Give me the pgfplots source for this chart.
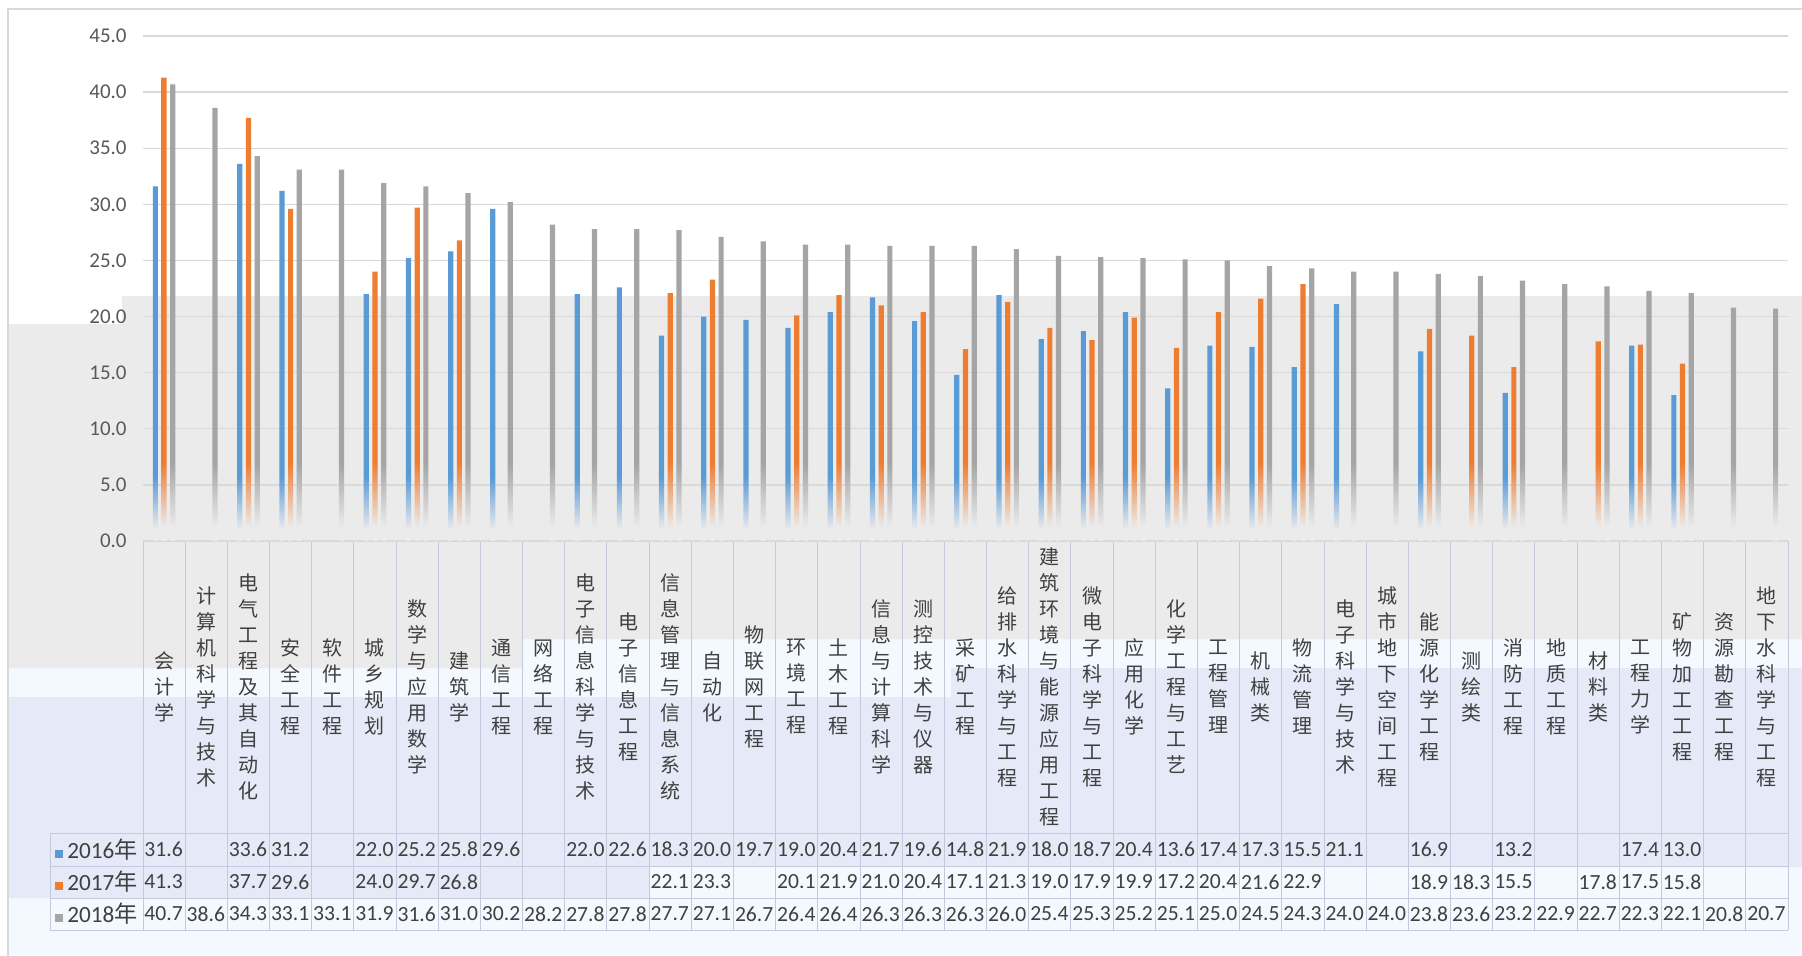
\documentclass[border=0pt]{standalone}
\usepackage{fontspec}
\setmainfont{Carlito}
\newfontfamily\cjk{Noto Sans CJK SC}
\usepackage{pgfplots}
\pgfplotsset{compat=1.18}
\usepackage{pgfplotstable}

\definecolor{c16}{HTML}{5B9BD5}
\definecolor{c17}{HTML}{ED7D31}
\definecolor{c18}{HTML}{A5A5A5}
\definecolor{bgg}{HTML}{EBEBEB}
\definecolor{lav}{HTML}{E6EAF8}
\definecolor{strip}{HTML}{F3F9FE}
\definecolor{gridc}{HTML}{D9D9D9}
\definecolor{tblc}{HTML}{C4C9DB}
\definecolor{axc}{HTML}{BFBFBF}
\definecolor{txt}{HTML}{404040}
\definecolor{tickc}{HTML}{595959}

\pgfdeclareverticalshading{f16}{100bp}{color(0bp)=(bgg); color(26.5bp)=(bgg); color(33.5bp)=(c16); color(100bp)=(c16)}
\pgfdeclareverticalshading{f17}{100bp}{color(0bp)=(bgg); color(26.5bp)=(bgg); color(33.5bp)=(c17); color(100bp)=(c17)}
\pgfdeclareverticalshading{f18}{100bp}{color(0bp)=(bgg); color(26.5bp)=(bgg); color(33.5bp)=(c18); color(100bp)=(c18)}

\pgfplotstableread{
x v16 v17 v18
0 31.6 41.3 40.7
1 nan nan 38.6
2 33.6 37.7 34.3
3 31.2 29.6 33.1
4 nan nan 33.1
5 22.0 24.0 31.9
6 25.2 29.7 31.6
7 25.8 26.8 31.0
8 29.6 nan 30.2
9 nan nan 28.2
10 22.0 nan 27.8
11 22.6 nan 27.8
12 18.3 22.1 27.7
13 20.0 23.3 27.1
14 19.7 nan 26.7
15 19.0 20.1 26.4
16 20.4 21.9 26.4
17 21.7 21.0 26.3
18 19.6 20.4 26.3
19 14.8 17.1 26.3
20 21.9 21.3 26.0
21 18.0 19.0 25.4
22 18.7 17.9 25.3
23 20.4 19.9 25.2
24 13.6 17.2 25.1
25 17.4 20.4 25.0
26 17.3 21.6 24.5
27 15.5 22.9 24.3
28 21.1 nan 24.0
29 nan nan 24.0
30 16.9 18.9 23.8
31 nan 18.3 23.6
32 13.2 15.5 23.2
33 nan nan 22.9
34 nan 17.8 22.7
35 17.4 17.5 22.3
36 13.0 15.8 22.1
37 nan nan 20.8
38 nan nan 20.7
}\data

\newcommand\numfont{\fontsize{10.8}{12}\selectfont}
\newcommand\legfont{\fontsize{11.6}{12}\selectfont}

\begin{document}
\begin{tikzpicture}
\useasboundingbox (0pt,0pt) rectangle (901pt,477.5pt);
\fill[white] (0pt,0pt) rectangle (901pt,477.5pt);
% background bands
\fill[strip] (4pt,0pt) rectangle (901pt,158pt);
\fill[bgg] (4pt,315.5pt) -- (61pt,315.5pt) -- (61pt,329.5pt) -- (901pt,329.5pt) -- (901pt,158pt) -- (261.5pt,158pt) -- (261.5pt,143.5pt) -- (4pt,143.5pt) -- cycle;
\fill[lav] (4pt,129pt) -- (475.5pt,129pt) -- (475.5pt,143.5pt) -- (901pt,143.5pt) -- (901pt,44pt) -- (325pt,44pt) -- (325pt,28.5pt) -- (4pt,28.5pt) -- cycle;
% chart border
\draw[gridc, line width=0.6pt] (4pt,-2pt) -- (4pt,473pt) -- (903pt,473pt);
% data table grid
\foreach \k in {0,...,39} {
  \draw[tblc, line width=0.5pt] ({71.5pt+\k*21.0897pt},207pt) -- ({71.5pt+\k*21.0897pt},12.5pt);
}
\draw[tblc, line width=0.5pt] (25pt,61pt) -- (25pt,12.5pt);
\foreach \yy in {61,44.5,28.5,12.5} {
  \draw[tblc, line width=0.5pt] (25pt,\yy pt) -- (894pt,\yy pt);
}
\draw[axc, line width=0.6pt] (71.5pt,207pt) -- (894pt,207pt);
% legend keys of the data table
\node[anchor=west, inner sep=0pt, text=txt, font=\legfont] at (27.5pt,52.75pt) {\textcolor{c16}{\rule[0.3pt]{4pt}{4pt}}\,2016{\cjk 年}};
\node[anchor=west, inner sep=0pt, text=txt, font=\legfont] at (27.5pt,36.5pt) {\textcolor{c17}{\rule[0.3pt]{4pt}{4pt}}\,2017{\cjk 年}};
\node[anchor=west, inner sep=0pt, text=txt, font=\legfont] at (27.5pt,20.5pt) {\textcolor{c18}{\rule[0.3pt]{4pt}{4pt}}\,2018{\cjk 年}};

\begin{axis}[
  at={(71.5pt,207pt)}, anchor=south west,
  width=822.5pt, height=252.5pt, scale only axis,
  xmin=-0.5, xmax=38.5, ymin=0, ymax=45,
  enlargelimits=false, clip=false,
  axis line style={draw=none},
  tick style={draw=none}, major tick length=0pt,
  ymajorgrids, grid style={gridc, line width=0.7pt},
  ytick={0,5,...,45},
  /pgf/number format/fixed, /pgf/number format/fixed zerofill,
  /pgf/number format/precision=1, /pgf/number format/assume math mode=true,
  yticklabel style={font=\fontsize{10.5}{12}\selectfont, text=tickc, anchor=east, inner sep=0pt, xshift=-8pt},
  xtick={0,...,38},
  xticklabels={
    {会\\计\\学},
    {计\\算\\机\\科\\学\\与\\技\\术},
    {电\\气\\工\\程\\及\\其\\自\\动\\化},
    {安\\全\\工\\程},
    {软\\件\\工\\程},
    {城\\乡\\规\\划},
    {数\\学\\与\\应\\用\\数\\学},
    {建\\筑\\学},
    {通\\信\\工\\程},
    {网\\络\\工\\程},
    {电\\子\\信\\息\\科\\学\\与\\技\\术},
    {电\\子\\信\\息\\工\\程},
    {信\\息\\管\\理\\与\\信\\息\\系\\统},
    {自\\动\\化},
    {物\\联\\网\\工\\程},
    {环\\境\\工\\程},
    {土\\木\\工\\程},
    {信\\息\\与\\计\\算\\科\\学},
    {测\\控\\技\\术\\与\\仪\\器},
    {采\\矿\\工\\程},
    {给\\排\\水\\科\\学\\与\\工\\程},
    {建\\筑\\环\\境\\与\\能\\源\\应\\用\\工\\程},
    {微\\电\\子\\科\\学\\与\\工\\程},
    {应\\用\\化\\学},
    {化\\学\\工\\程\\与\\工\\艺},
    {工\\程\\管\\理},
    {机\\械\\类},
    {物\\流\\管\\理},
    {电\\子\\科\\学\\与\\技\\术},
    {城\\市\\地\\下\\空\\间\\工\\程},
    {能\\源\\化\\学\\工\\程},
    {测\\绘\\类},
    {消\\防\\工\\程},
    {地\\质\\工\\程},
    {材\\料\\类},
    {工\\程\\力\\学},
    {矿\\物\\加\\工\\工\\程},
    {资\\源\\勘\\查\\工\\程},
    {地\\下\\水\\科\\学\\与\\工\\程}},
  xticklabel style={font=\cjk\fontsize{10}{13}\selectfont, text=txt, align=center, anchor=center, inner sep=0pt, yshift=-73pt},
]
\addplot[ybar, bar width=2.6pt, bar shift=-4.35pt, draw=none, shading=f16] table[x=x, y=v16] {\data};
\addplot[ybar, bar width=2.6pt, bar shift=0pt, draw=none, shading=f17] table[x=x, y=v17] {\data};
\addplot[ybar, bar width=2.6pt, bar shift=4.35pt, draw=none, shading=f18] table[x=x, y=v18] {\data};

\addplot[draw=none, mark=none, point meta=explicit, nodes near coords,
  nodes near coords style={anchor=west, inner sep=0pt, xshift=-10pt, yshift=-154.25pt, font=\numfont, text=txt}]
  table[x=x, y expr=\thisrow{v16}*0, meta=v16] {\data};
\addplot[draw=none, mark=none, point meta=explicit, nodes near coords,
  nodes near coords style={anchor=west, inner sep=0pt, xshift=-10pt, yshift=-170.5pt, font=\numfont, text=txt}]
  table[x=x, y expr=\thisrow{v17}*0, meta=v17] {\data};
\addplot[draw=none, mark=none, point meta=explicit, nodes near coords,
  nodes near coords style={anchor=west, inner sep=0pt, xshift=-10pt, yshift=-186.5pt, font=\numfont, text=txt}]
  table[x=x, y expr=\thisrow{v18}*0, meta=v18] {\data};
\end{axis}
\end{tikzpicture}
\end{document}
